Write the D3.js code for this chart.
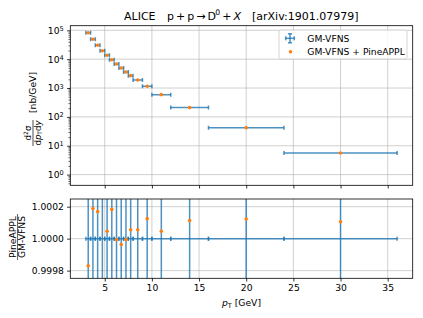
<!DOCTYPE html>
<html>
<head>
<meta charset="utf-8">
<script src="https://cdn.jsdelivr.net/npm/d3@7"></script>
<style>
  body { margin: 0; background: #fff; }
  svg { display: block; font-family: "DejaVu Sans", sans-serif; }
</style>
</head>
<body>
<div id="chart-wrap"></div>
<script>
// pT bins [GeV]
const binLo = [3, 3.5, 4, 4.5, 5, 5.5, 6, 6.5, 7, 7.5, 8, 9, 10, 12, 16, 24];
const binHi = [3.5, 4, 4.5, 5, 5.5, 6, 6.5, 7, 7.5, 8, 9, 10, 12, 16, 24, 36];
// d2sigma/dpT dy [nb/GeV], GM-VFNS
const sigma = [82600, 49000, 30400, 19700, 13600, 9600, 6800, 4960, 3610, 2690, 1910, 1150, 590, 210, 42, 5.6];
// PineAPPL / GM-VFNS
const ratio = [0.99983, 1.000188, 1.000169, 1.00031, 1.000046, 1.000183, 0.999994, 0.999963,
               0.999994, 1.000056, 1.000056, 1.000125, 1.000046, 1.000113, 1.000123, 1.000106];
// relative uncertainty of GM-VFNS (estimated, too small to see on the log panel)
const relErr = [0.05, 0.05, 0.045, 0.045, 0.04, 0.04, 0.04, 0.04, 0.04, 0.04, 0.04, 0.045, 0.045, 0.05, 0.05, 0.06];

const xTicks = [5, 10, 15, 20, 25, 30, 35];
const yTopExp = [0, 1, 2, 3, 4, 5];
const yBotTicks = [0.9998, 1.0000, 1.0002];
const legendLabels = ["GM-VFNS", "GM-VFNS + PineAPPL"];

const width = 423, height = 318;
const plotL = 70.3, plotR = 412.7;
const topP = {t: 25.7, b: 185.3};
const botP = {t: 199, b: 278.3};
const blue = "#1f77b4", orange = "#ff7f0e";
const fs = 9.2;

const data = binLo.map((lo, i) => ({
  lo: lo, hi: binHi[i], c: (lo + binHi[i]) / 2,
  s: sigma[i], r: ratio[i], e: relErr[i]
}));

const svg = d3.select("#chart-wrap").append("svg")
  .attr("width", width).attr("height", height);

const x = d3.scaleLinear().domain([1.35, 37.65]).range([plotL, plotR]);
const yTop = d3.scaleLog().domain([Math.pow(10, -0.37), Math.pow(10, 5.16)]).range([topP.b, topP.t]);
const yBot = d3.scaleLinear().domain([0.999752, 1.000248]).range([botP.b, botP.t]);

const defs = svg.append("defs");
defs.append("clipPath").attr("id", "clipTop").append("rect")
  .attr("x", plotL).attr("y", topP.t).attr("width", plotR - plotL).attr("height", topP.b - topP.t);
defs.append("clipPath").attr("id", "clipBot").append("rect")
  .attr("x", plotL).attr("y", botP.t).attr("width", plotR - plotL).attr("height", botP.b - botP.t);

function grid(g, p, yVals, yScale) {
  g.selectAll(".gx").data(xTicks).enter().append("line")
    .attr("x1", d => x(d)).attr("x2", d => x(d))
    .attr("y1", p.t).attr("y2", p.b)
    .attr("stroke", "#b0b0b0").attr("stroke-opacity", 0.6).attr("stroke-width", 1);
  g.selectAll(".gy").data(yVals).enter().append("line")
    .attr("x1", plotL).attr("x2", plotR)
    .attr("y1", d => yScale(d)).attr("y2", d => yScale(d))
    .attr("stroke", "#b0b0b0").attr("stroke-opacity", 0.6).attr("stroke-width", 1);
}

function styleAxis(g) {
  g.select(".domain").remove();
  g.selectAll("line").attr("stroke", "#000").attr("stroke-width", 0.8);
  g.attr("font-family", null).attr("font-size", fs);
  g.selectAll("text").attr("fill", "#000");
}

// ---------- top panel ----------
const gTop = svg.append("g");
grid(gTop, topP, yTopExp.map(k => Math.pow(10, k)), yTop);

const errTop = gTop.append("g").attr("clip-path", "url(#clipTop)")
  .attr("stroke", blue).attr("stroke-width", 1.5).attr("stroke-opacity", 0.8);
data.forEach(d => {
  const yy = yTop(d.s);
  errTop.append("line").attr("x1", x(d.lo)).attr("x2", x(d.hi)).attr("y1", yy).attr("y2", yy);
  errTop.append("line").attr("x1", x(d.lo)).attr("x2", x(d.lo)).attr("y1", yy - 2).attr("y2", yy + 2);
  errTop.append("line").attr("x1", x(d.hi)).attr("x2", x(d.hi)).attr("y1", yy - 2).attr("y2", yy + 2);
  errTop.append("line").attr("x1", x(d.c)).attr("x2", x(d.c))
    .attr("y1", yTop(d.s * (1 - d.e))).attr("y2", yTop(d.s * (1 + d.e)));
});
gTop.append("g").attr("clip-path", "url(#clipTop)")
  .selectAll("circle").data(data).enter().append("circle")
  .attr("cx", d => x(d.c)).attr("cy", d => yTop(d.s)).attr("r", 1.8).attr("fill", orange);

gTop.append("g").attr("transform", "translate(0," + topP.b + ")")
  .call(d3.axisBottom(x).tickValues(xTicks).tickSize(3.2).tickFormat(""))
  .call(styleAxis);

const minors = [];
for (let k = -1; k <= 5; k++) for (let m = 2; m <= 9; m++) {
  const v = m * Math.pow(10, k);
  if (v > yTop.domain()[0] && v < yTop.domain()[1]) minors.push(v);
}
gTop.append("g").attr("transform", "translate(" + plotL + ",0)")
  .call(d3.axisLeft(yTop).tickValues(minors).tickSize(1.8).tickFormat(""))
  .call(styleAxis)
  .selectAll("line").attr("stroke-width", 0.6);

const yAxTop = gTop.append("g").attr("transform", "translate(" + plotL + ",0)")
  .call(d3.axisLeft(yTop).tickValues(yTopExp.map(k => Math.pow(10, k))).tickSize(3.2).tickPadding(3.2).tickFormat(""))
  .call(styleAxis);
yAxTop.selectAll(".tick").each(function(d) {
  const t = d3.select(this).append("text")
    .attr("x", -6.6).attr("dy", "0.32em").attr("text-anchor", "end").attr("fill", "#000");
  t.append("tspan").text("10");
  t.append("tspan").attr("dy", "-0.45em").attr("font-size", fs * 0.72).text(Math.round(Math.log10(d)));
});

gTop.append("rect").attr("x", plotL).attr("y", topP.t)
  .attr("width", plotR - plotL).attr("height", topP.b - topP.t)
  .attr("fill", "none").attr("stroke", "#000").attr("stroke-width", 0.8);

// legend
const leg = gTop.append("g");
leg.append("rect").attr("x", 279).attr("y", 30).attr("width", 128).attr("height", 29).attr("rx", 2)
  .attr("fill", "#fff").attr("fill-opacity", 0.8).attr("stroke", "#cccccc").attr("stroke-width", 0.8);
const lh = leg.append("g").attr("stroke", blue).attr("stroke-width", 1.5).attr("stroke-opacity", 0.8);
lh.append("line").attr("x1", 285.7).attr("x2", 294.3).attr("y1", 38.3).attr("y2", 38.3);
lh.append("line").attr("x1", 285.7).attr("x2", 285.7).attr("y1", 36.3).attr("y2", 40.3);
lh.append("line").attr("x1", 294.3).attr("x2", 294.3).attr("y1", 36.3).attr("y2", 40.3);
lh.append("line").attr("x1", 290).attr("x2", 290).attr("y1", 33.8).attr("y2", 42.8);
lh.append("line").attr("x1", 288).attr("x2", 292).attr("y1", 33.8).attr("y2", 33.8);
lh.append("line").attr("x1", 288).attr("x2", 292).attr("y1", 42.8).attr("y2", 42.8);
leg.append("circle").attr("cx", 290.5).attr("cy", 51.7).attr("r", 1.8).attr("fill", orange);
leg.selectAll("text.lt").data(legendLabels).enter().append("text")
  .attr("x", 307.3).attr("y", (d, i) => 41.6 + i * 13.4)
  .attr("font-size", fs).attr("fill", "#000").text(d => d);

// ---------- bottom panel ----------
const gBot = svg.append("g");
grid(gBot, botP, yBotTicks, yBot);

const errBot = gBot.append("g").attr("clip-path", "url(#clipBot)")
  .attr("stroke", blue).attr("stroke-width", 1.5).attr("stroke-opacity", 0.8);
data.forEach(d => {
  const yy = yBot(1);
  errBot.append("line").attr("x1", x(d.lo)).attr("x2", x(d.hi)).attr("y1", yy).attr("y2", yy);
  errBot.append("line").attr("x1", x(d.lo)).attr("x2", x(d.lo)).attr("y1", yy - 2).attr("y2", yy + 2);
  errBot.append("line").attr("x1", x(d.hi)).attr("x2", x(d.hi)).attr("y1", yy - 2).attr("y2", yy + 2);
  errBot.append("line").attr("x1", x(d.c)).attr("x2", x(d.c))
    .attr("y1", yBot(1 - d.e)).attr("y2", yBot(1 + d.e));
});
gBot.append("g").attr("clip-path", "url(#clipBot)")
  .selectAll("circle").data(data).enter().append("circle")
  .attr("cx", d => x(d.c)).attr("cy", d => yBot(d.r)).attr("r", 1.8).attr("fill", orange);

gBot.append("g").attr("transform", "translate(0," + botP.b + ")")
  .call(d3.axisBottom(x).tickValues(xTicks).tickSize(3.2).tickPadding(3.2).tickFormat(d3.format("d")))
  .call(styleAxis);
gBot.append("g").attr("transform", "translate(" + plotL + ",0)")
  .call(d3.axisLeft(yBot).tickValues(yBotTicks).tickSize(3.2).tickPadding(3.2).tickFormat(d3.format(".4f")))
  .call(styleAxis);

gBot.append("rect").attr("x", plotL).attr("y", botP.t)
  .attr("width", plotR - plotL).attr("height", botP.b - botP.t)
  .attr("fill", "none").attr("stroke", "#000").attr("stroke-width", 0.8);

// ---------- labels ----------
const title = svg.append("g").attr("font-size", 11).attr("fill", "#000");
title.append("text").attr("x", 124).attr("y", 19.5).text("ALICE");
const tm = title.append("text").attr("x", 167).attr("y", 19.5)
  .attr("textLength", 74).attr("lengthAdjust", "spacing");
tm.append("tspan").text("p + p \u2192 D");
tm.append("tspan").attr("dy", -4.5).attr("font-size", 7.7).text("0");
tm.append("tspan").attr("dy", 4.5).text(" + ");
tm.append("tspan").attr("font-style", "italic").text("X");
title.append("text").attr("x", 252).attr("y", 19.5).text("[arXiv:1901.07979]");

const xl = svg.append("text").attr("x", 241.5).attr("y", 306).attr("text-anchor", "middle")
  .attr("font-size", fs).attr("fill", "#000");
xl.append("tspan").attr("font-style", "italic").text("p");
xl.append("tspan").attr("dy", 2).attr("font-size", 6.5).text("T");
xl.append("tspan").attr("dy", -2).text(" [GeV]");

// top y label: fraction + unit
const yl = svg.append("g").attr("transform", "translate(33,107) rotate(-90)").attr("fill", "#000");
const num = yl.append("text").attr("x", -26).attr("y", -2).attr("text-anchor", "middle").attr("font-size", 8.6);
num.append("tspan").text("d");
num.append("tspan").attr("dy", -3.3).attr("font-size", 6).text("2");
num.append("tspan").attr("dy", 3.3).text("\u03c3");
yl.append("line").attr("x1", -39).attr("x2", -13).attr("y1", 0).attr("y2", 0)
  .attr("stroke", "#000").attr("stroke-width", 0.7);
const den = yl.append("text").attr("x", -26).attr("y", 7.6).attr("text-anchor", "middle").attr("font-size", 8.6);
den.append("tspan").text("d");
den.append("tspan").attr("font-style", "italic").text("p");
den.append("tspan").attr("dy", 1.6).attr("font-size", 6).text("T");
den.append("tspan").attr("dy", -1.6).text("d");
den.append("tspan").attr("font-style", "italic").text("y");
yl.append("text").attr("x", -6).attr("y", 3.3).attr("font-size", fs).text("[nb/GeV]");

// bottom y label: fraction
const yl2 = svg.append("g").attr("transform", "translate(17.5,237) rotate(-90)").attr("fill", "#000");
yl2.append("text").attr("x", 0).attr("y", -1.8).attr("text-anchor", "middle").attr("font-size", fs).text("PineAPPL");
yl2.append("line").attr("x1", -23).attr("x2", 23).attr("y1", 0).attr("y2", 0)
  .attr("stroke", "#000").attr("stroke-width", 0.6);
yl2.append("text").attr("x", 0).attr("y", 7.8).attr("text-anchor", "middle").attr("font-size", fs).text("GM-VFNS");
</script>
</body>
</html>
